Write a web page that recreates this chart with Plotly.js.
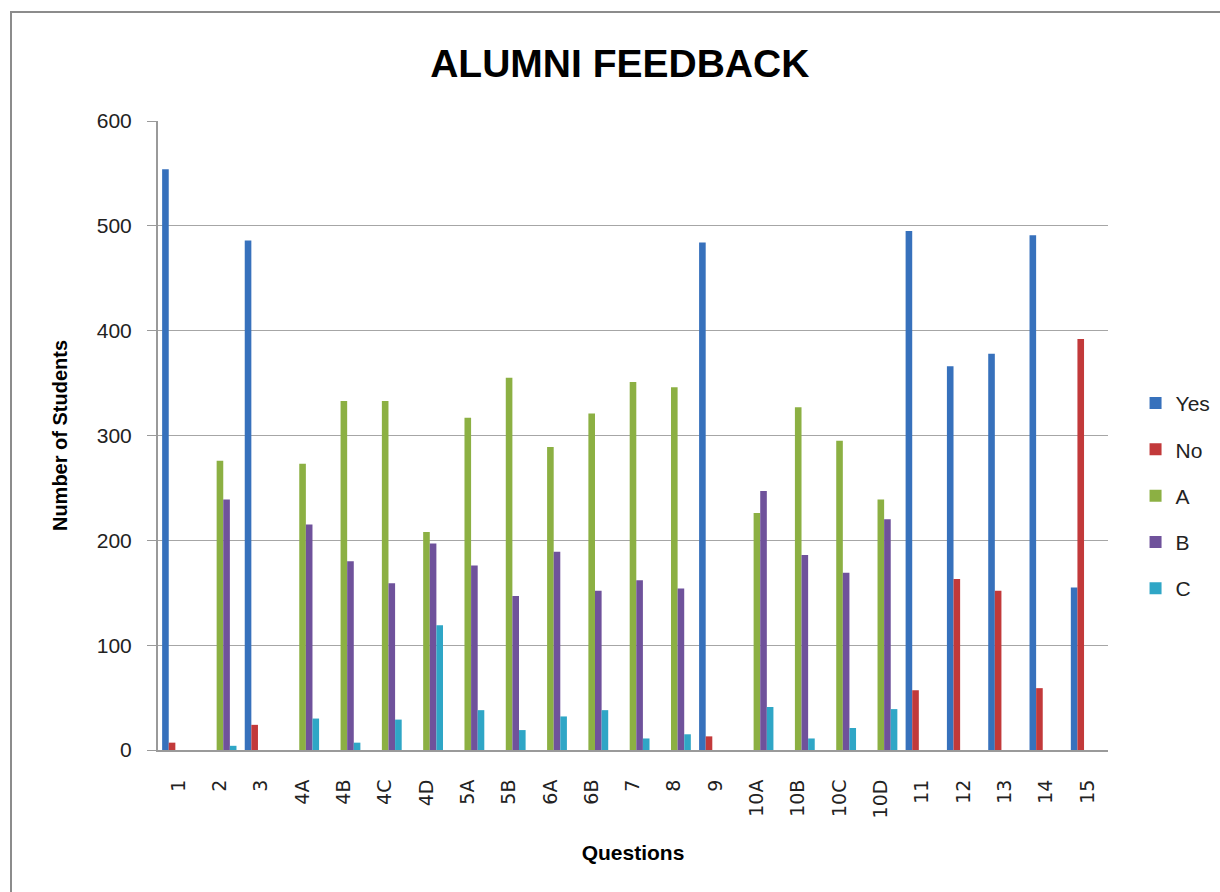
<!DOCTYPE html>
<html>
<head>
<meta charset="utf-8">
<script src="https://cdn.plot.ly/plotly-3.0.1.min.js"></script>
<style>
html,body{margin:0;padding:0;background:#fff;}
#chart{width:1220px;height:892px;}
</style>
</head>
<body>
<div id="chart"></div>
<script>
const questions = ["1","2","3","4A","4B","4C","4D","5A","5B","6A","6B","7","8","9","10A","10B","10C","10D","11","12","13","14","15"];
const yesValues = [554,null,486,null,null,null,null,null,null,null,null,null,null,484,null,null,null,null,495,366,378,491,155];
const noValues  = [7,null,24,null,null,null,null,null,null,null,null,null,null,13,null,null,null,null,57,163,152,59,392];
const aValues   = [null,276,null,273,333,333,208,317,355,289,321,351,346,null,226,327,295,239,null,null,null,null,null];
const bValues   = [null,239,null,215,180,159,197,176,147,189,152,162,154,null,247,186,169,220,null,null,null,null,null];
const cValues   = [null,4,null,30,7,29,119,38,19,32,38,11,15,null,41,11,21,39,null,null,null,null,null];

const seriesNames = ["Yes","No","A","B","C"];
const seriesColors = ["#3771BC","#C2393A","#8CB043","#6F529B","#2FA6C6"];
const seriesData = [yesValues,noValues,aValues,bValues,cValues];

const traces = seriesData.map((vals,i)=>({
  type:'bar',
  name: seriesNames[i],
  x: questions,
  y: vals,
  legendgroup: 'g'+i,
  marker:{color: seriesColors[i], line:{width:0}},
  hoverinfo:'x+y+name'
}));

const fontMain = 'Liberation Sans, Arial, sans-serif';
const layout = {
  width:1220, height:892,
  paper_bgcolor:'#ffffff', plot_bgcolor:'#ffffff',
  margin:{l:158, r:112, t:121, b:142, autoexpand:false},
  barmode:'group', bargap:0.2, bargroupgap:0,
  title:{text:'ALUMNI FEEDBACK', x:0.508, xref:'container', y:0.929, yref:'container', xanchor:'center', yanchor:'middle',
         font:{family:fontMain, size:39, color:'#000', weight:'bold'}},
  xaxis:{
    type:'category',
    tickangle:-90,
    tickfont:{family:'DejaVu Sans, sans-serif', size:19, color:'#222'},
    showline:true, linecolor:'#9a9a9a', linewidth:2,
    ticks:'', showgrid:false,
    ticklabelstandoff:20,
    title:{text:'Questions', font:{family:fontMain, size:21, color:'#000', weight:'bold'}, standoff:28},
    automargin:false
  },
  yaxis:{
    range:[0,600], dtick:100, tick0:0,
    tickfont:{family:fontMain, size:21, color:'#222'},
    showline:true, linecolor:'#9a9a9a', linewidth:2,
    ticks:'outside', ticklen:9, tickcolor:'#9a9a9a', tickwidth:1,
    ticklabelstandoff:11,
    showgrid:true, gridcolor:'#a6a6a6', gridwidth:1,
    zeroline:false,
    title:{text:'Number of Students', font:{family:fontMain, size:20, color:'#000', weight:'bold'}, standoff:24},
    automargin:false
  },
  legend:{
    x:1.029, xanchor:'left', y:0.404, yanchor:'middle',
    font:{family:fontMain, size:21, color:'#222'},
    traceorder:'grouped', tracegroupgap:16,
    bgcolor:'rgba(0,0,0,0)', borderwidth:0
  },
  shapes:[{
    type:'rect', xref:'paper', yref:'paper',
    x0:(11-158)/950, x1:(1240-158)/950,
    y0:(750-910)/629, y1:(750-12)/629,
    line:{color:'#8c8c8c', width:2}, fillcolor:'rgba(0,0,0,0)', layer:'below'
  }],
  showlegend:true
};

Plotly.newPlot('chart', traces, layout, {displayModeBar:false, responsive:false});
</script>
</body>
</html>
